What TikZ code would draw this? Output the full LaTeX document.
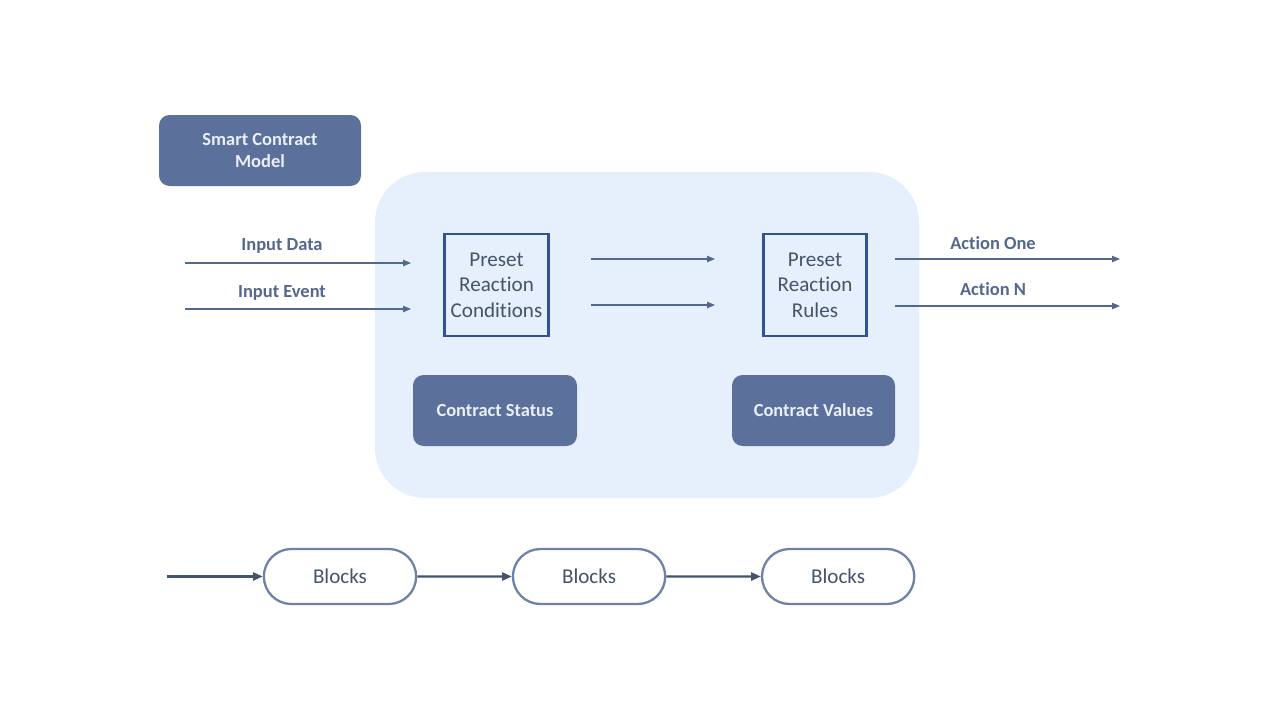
\documentclass[tikz,border=0pt]{standalone}
\usepackage{fontspec}
\setmainfont{Carlito}[Ligatures=NoCommon]
\usepackage{tikz}
\usetikzlibrary{
    arrows.meta,
    positioning,
    shapes.misc,
    backgrounds
}
\definecolor{slate}{RGB}{91,112,155}
\definecolor{slatetext}{RGB}{235,239,247}
\definecolor{ink}{RGB}{68,84,106}
\definecolor{labelink}{RGB}{84,104,142}
\definecolor{frame}{RGB}{47,84,150}
\definecolor{panel}{RGB}{230,240,252}
\definecolor{pill}{RGB}{111,130,166}
\tikzset{
    line cap=round,
    line join=round,
    tag/.style={
        rectangle,
        rounded corners=6pt,
        fill=slate,
        text=slatetext,
        align=center,
        font=\normalfont\bfseries\fontsize{10.5}{12.6}\selectfont,
        inner sep=0pt
    },
    presetbox/.style={
        rectangle,
        draw=frame,
        line width=1.5pt,
        minimum width=2.06cm,
        minimum height=2.04cm,
        align=center,
        text=ink,
        font=\normalfont\fontsize{12}{14.5}\selectfont
    },
    blockpill/.style={
        rounded rectangle,
        draw=pill,
        line width=1.3pt,
        fill=white,
        minimum width=3.28cm,
        minimum height=1.1cm,
        text=ink,
        font=\normalfont\fontsize{12}{14.5}\selectfont
    },
    signal/.style={
        -{Triangle[length=4.5pt, width=3.6pt]},
        draw=labelink,
        line width=0.6pt
    },
    chain/.style={
        -{Triangle[length=5.5pt, width=4.6pt]},
        draw=ink,
        line width=1.2pt
    },
    siglabel/.style={
        font=\normalfont\bfseries\fontsize{10.5}{12.6}\selectfont,
        text=labelink
    }
}

\begin{document}
\begin{tikzpicture}[
    show background rectangle,
    background rectangle/.style={fill=white}
]
\useasboundingbox (0, 0) rectangle (25.6, -14.4);

% Contract panel
\fill[panel, rounded corners=1cm] (7.5, -3.44) rectangle (18.38, -9.96);

\node[tag, minimum width=4.04cm, minimum height=1.42cm] (model) at (5.2, -3.01) {Smart Contract\\Model};

% Preset boxes
\node[presetbox] (cond) at (9.93, -5.7) {Preset\\Reaction\\Conditions};
\node[presetbox] (rules) at (16.3, -5.7) {Preset\\Reaction\\Rules};

\node[tag, minimum width=3.28cm, minimum height=1.42cm] (status) at (9.9, -8.21) {Contract Status};
\node[tag, minimum width=3.26cm, minimum height=1.42cm] (values) at (16.27, -8.21) {Contract Values};

% Inputs
\coordinate (dataL) at (3.7, -5.26);
\coordinate (dataR) at (8.22, -5.26);
\coordinate (eventL) at (3.7, -6.18);
\coordinate (eventR) at (8.22, -6.18);
\draw[signal] (dataL) -- (dataR);
\draw[signal] (eventL) -- (eventR);
\node[siglabel] (datalbl) at (5.64, -4.92) {Input Data};
\node[siglabel] (eventlbl) at (5.64, -5.86) {Input Event};

% Conditions to rules
\coordinate (midAL) at (11.82, -5.18);
\coordinate (midAR) at (14.3, -5.18);
\coordinate (midBL) at (11.82, -6.1);
\coordinate (midBR) at (14.3, -6.1);
\draw[signal] (midAL) -- (midAR);
\draw[signal] (midBL) -- (midBR);

% Actions
\coordinate (oneL) at (17.9, -5.18);
\coordinate (oneR) at (22.4, -5.18);
\coordinate (nL) at (17.9, -6.12);
\coordinate (nR) at (22.4, -6.12);
\draw[signal] (oneL) -- (oneR);
\draw[signal] (nL) -- (nR);
\node[siglabel] (onelbl) at (19.86, -4.86) {Action One};
\node[siglabel] (nlbl) at (19.86, -5.78) {Action N};

% Block chain
\coordinate (chainin) at (3.34, -11.53);
\node[blockpill] (blk1) at (6.8, -11.53) {Blocks};
\node[blockpill, right=1.89cm of blk1] (blk2) {Blocks};
\node[blockpill, right=1.89cm of blk2] (blk3) {Blocks};
\draw[chain] (chainin) -- (blk1);
\draw[chain] (blk1) -- (blk2);
\draw[chain] (blk2) -- (blk3);
\end{tikzpicture}
\end{document}
